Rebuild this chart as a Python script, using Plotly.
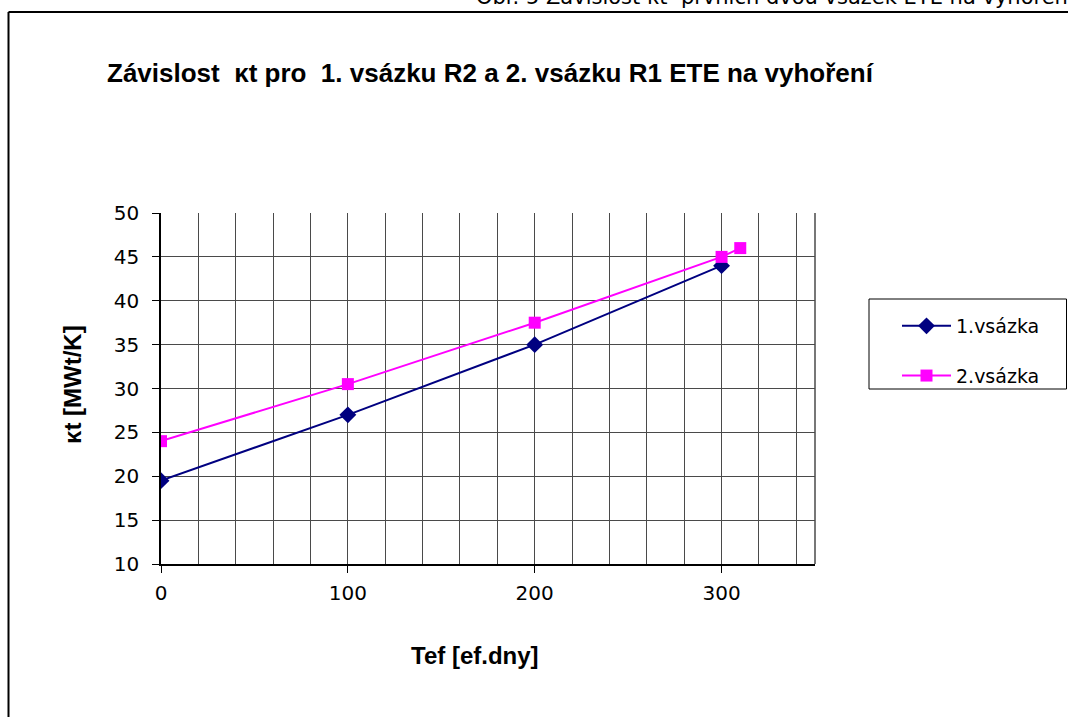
import plotly.graph_objects as go

x1 = [0, 100, 200, 300]
y1 = [19.5, 27, 35, 44]
x2 = [0, 100, 200, 300, 310]
y2 = [24, 30.5, 37.5, 45, 46]
names = ["1.vsázka", "2.vsázka"]
x_ticks = [0, 100, 200, 300]
y_ticks = [10, 15, 20, 25, 30, 35, 40, 45, 50]

W, H = 1068, 717
L, R, T, B = 161, 815, 213, 564
pw, ph = R - L, B - T

def px(x):
    return (x - L) / pw

def py(y):
    return (B - y) / ph

FONT = "Liberation Sans, Arial, sans-serif"
WIDE = "DejaVu Sans, Verdana, sans-serif"

fig = go.Figure()
fig.add_trace(go.Scatter(x=x1, y=y1, name=names[0], mode="lines+markers",
                         line=dict(color="#000080", width=2),
                         marker=dict(symbol="diamond", size=13, color="#000080"),
                         legendgroup="a"))
fig.add_trace(go.Scatter(x=x2, y=y2, name=names[1], mode="lines+markers",
                         line=dict(color="#FF00FF", width=2),
                         marker=dict(symbol="square", size=12, color="#FF00FF"),
                         legendgroup="b"))

grid = "#4a4a4a"
fig.update_layout(
    width=W, height=H,
    margin=dict(l=L, r=W - R, t=T, b=H - B, pad=0),
    paper_bgcolor="white", plot_bgcolor="white",
    font=dict(family=WIDE, color="black", size=20),
    showlegend=True,
    legend=dict(x=px(897), y=py(307), xanchor="left", yanchor="top",
                font=dict(size=19, family=WIDE), itemwidth=49,
                tracegroupgap=22, bgcolor="rgba(0,0,0,0)",
                traceorder="grouped"),
    xaxis=dict(range=[0, 350], tickmode="array", tickvals=x_ticks,
               ticks="outside", ticklen=7, tickcolor="black",
               ticklabelstandoff=3,
               showgrid=True, gridcolor=grid, gridwidth=1,
               minor=dict(dtick=20, tick0=0, showgrid=True, gridcolor=grid, gridwidth=1, ticks=""),
               showline=True, linecolor="black", linewidth=1.5, mirror=False,
               zeroline=False, tickfont=dict(size=20, family=WIDE), fixedrange=True),
    yaxis=dict(range=[10, 50], tickmode="array", tickvals=y_ticks,
               ticks="outside", ticklen=7, tickcolor="black",
               ticklabelstandoff=9,
               showgrid=True, gridcolor=grid, gridwidth=1,
               showline=True, linecolor="black", linewidth=1.5,
               zeroline=False, tickfont=dict(size=20, family=WIDE), fixedrange=True),
)

# right border of plot area
fig.add_shape(type="line", xref="paper", yref="paper", x0=1, x1=1, y0=0, y1=1,
              line=dict(color=grid, width=1.5))

# outer frame (left and top)
fig.add_shape(type="line", xref="paper", yref="paper",
              x0=px(8.5), x1=px(8.5), y0=py(12), y1=py(720),
              line=dict(color="black", width=2))
fig.add_shape(type="line", xref="paper", yref="paper",
              x0=px(8.5), x1=px(1075), y0=py(12), y1=py(12),
              line=dict(color="black", width=2))

# legend box
fig.add_shape(type="rect", xref="paper", yref="paper",
              x0=px(869), x1=px(1066.5), y0=py(299), y1=py(389),
              line=dict(color="black", width=1), fillcolor="rgba(0,0,0,0)")

# clipped caption at top
fig.add_annotation(text="Obr. 5 Závislost κt  prvních dvou vsázek ETE na vyhoření",
                   xref="paper", yref="paper", x=px(474), y=py(11),
                   xanchor="left", yanchor="bottom", showarrow=False,
                   font=dict(size=21, family=WIDE, color="black"))

# title
fig.add_annotation(text="<b>Závislost  κt pro  1. vsázku R2 a 2. vsázku R1 ETE na vyhoření</b>",
                   xref="paper", yref="paper", x=px(105), y=py(73),
                   xanchor="left", yanchor="middle", showarrow=False,
                   font=dict(size=26, family=FONT, color="black"))

# axis titles
fig.add_annotation(text="<b>Tef [ef.dny]</b>", xref="paper", yref="paper",
                   x=px(475), y=py(655), xanchor="center", yanchor="middle",
                   showarrow=False, font=dict(size=24, family=FONT))
fig.add_annotation(text="<b>κt [MWt/K]</b>", xref="paper", yref="paper",
                   x=px(72), y=py(385), xanchor="center", yanchor="middle",
                   textangle=-90, showarrow=False, font=dict(size=24, family=FONT))

fig.write_html("out.html")
